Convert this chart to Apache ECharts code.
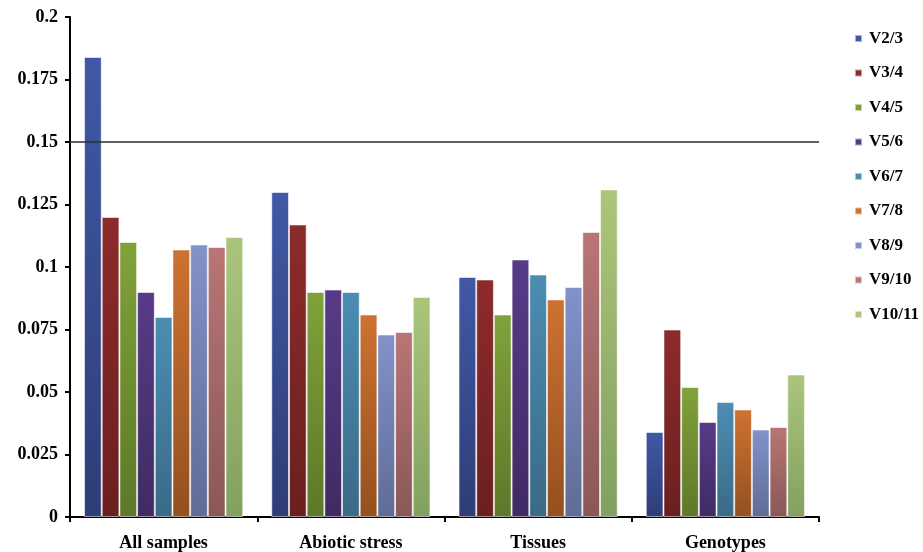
<!DOCTYPE html>
<html>
<head>
<meta charset="utf-8">
<script src="https://cdn.jsdelivr.net/npm/echarts@6/dist/echarts.min.js"></script>
<style>html,body{margin:0;padding:0;background:#fff;}#c{width:923px;height:552px;}</style>
</head>
<body>
<div id="c"></div>
<script>
var categories = ['All samples', 'Abiotic stress', 'Tissues', 'Genotypes'];
var seriesNames = ['V2/3', 'V3/4', 'V4/5', 'V5/6', 'V6/7', 'V7/8', 'V8/9', 'V9/10', 'V10/11'];
var v23   = [0.184, 0.130, 0.096, 0.034];
var v34   = [0.120, 0.117, 0.095, 0.075];
var v45   = [0.110, 0.090, 0.081, 0.052];
var v56   = [0.090, 0.091, 0.103, 0.038];
var v67   = [0.080, 0.090, 0.097, 0.046];
var v78   = [0.107, 0.081, 0.087, 0.043];
var v89   = [0.109, 0.073, 0.092, 0.035];
var v910  = [0.108, 0.074, 0.114, 0.036];
var v1011 = [0.112, 0.088, 0.131, 0.057];
var seriesValues = [v23, v34, v45, v56, v67, v78, v89, v910, v1011];
var threshold = 0.15;

var topColors = ['#4059a6', '#8d2b2b', '#80a23b', '#583b88', '#4c8db2', '#cd7232', '#8292ca', '#b97676', '#abc67b'];
var botColors = ['#2e3d76', '#6b1f1f', '#5d7829', '#3f2b63', '#3a6a86', '#94501f', '#5f6c96', '#8a5757', '#82a05f'];

var font = 'Liberation Serif, Times New Roman, serif';

var series = seriesNames.map(function (name, i) {
  var s = {
    name: name,
    type: 'bar',
    data: seriesValues[i],
    barGap: '0%',
    barCategoryGap: '15%',
    itemStyle: {
      color: new echarts.graphic.LinearGradient(0, 0, 0, 1, [
        {offset: 0, color: topColors[i]},
        {offset: 1, color: botColors[i]}
      ]),
      borderColor: 'rgba(255,255,255,0.55)',
      borderWidth: 1
    }
  };
  if (i === 0) {
    s.markLine = {
      silent: true,
      symbol: 'none',
      label: {show: false},
      lineStyle: {color: '#2e2e2e', width: 1.6, type: 'solid'},
      data: [{yAxis: threshold}]
    };
  }
  return s;
});

var chart = echarts.init(document.getElementById('c'));
chart.setOption({
  animation: false,
  backgroundColor: '#fff',
  color: topColors,
  grid: {left: 70, right: 104, top: 17, bottom: 35, containLabel: false},
  legend: {
    orient: 'vertical',
    left: 849,
    top: 25,
    itemWidth: 7,
    itemHeight: 7,
    itemGap: 17.5,
    icon: 'rect',
    data: seriesNames.map(function (n, i) { return {name: n, itemStyle: {color: topColors[i]}}; }),
    textStyle: {fontFamily: font, fontWeight: 'bold', fontSize: 17, color: '#000', padding: [0, 0, 0, 2]}
  },
  xAxis: {
    type: 'category',
    data: categories,
    axisLine: {lineStyle: {color: '#000', width: 2}},
    axisTick: {show: true, length: 5, lineStyle: {color: '#000', width: 2}, alignWithLabel: false, interval: 0},
    axisLabel: {fontFamily: font, fontWeight: 'bold', fontSize: 18, color: '#000', margin: 17, interval: 0}
  },
  yAxis: {
    type: 'value',
    min: 0,
    max: 0.2,
    interval: 0.025,
    axisLine: {show: true, lineStyle: {color: '#000', width: 2}},
    axisTick: {show: true, length: 5, lineStyle: {color: '#000', width: 2}},
    splitLine: {show: false},
    axisLabel: {
      fontFamily: font, fontWeight: 'bold', fontSize: 18, color: '#000', margin: 12,
      formatter: function (v) { return String(+v.toFixed(3)); }
    }
  },
  series: series
});
</script>
</body>
</html>
